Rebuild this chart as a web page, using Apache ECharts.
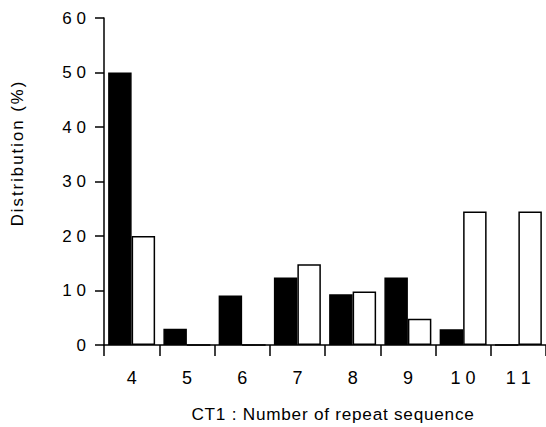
<!DOCTYPE html>
<html>
<head>
<meta charset="utf-8">
<script src="https://cdn.jsdelivr.net/npm/echarts@6/dist/echarts.min.js"></script>
<style>
html,body{margin:0;padding:0;background:#fff;}
#c{width:546px;height:427px;}
#c text[style*="16.8px"]{letter-spacing:2px;}
#c text[style*="17.2px"]{letter-spacing:0.75px;}
</style>
</head>
<body>
<div id="c"></div>
<script>
var categories = ['4','5','6','7','8','9','10','11'];
var blackValues = [50, 3, 9.1, 12.4, 9.3, 12.4, 2.9, 0];
var whiteValues = [20, 0, 0, 14.8, 9.8, 4.8, 24.5, 24.5];
var yTicks = [0, 10, 20, 30, 40, 50, 60];
var xAxisTitle = 'CT1 : Number of repeat sequence';
var yAxisTitle = 'Distribution (%)';

var FONT = '"Liberation Sans", Arial, sans-serif';
function spaced(s){ return String(s).split('').join(' '); }

var chart = echarts.init(document.getElementById('c'), null, {renderer:'svg'});
chart.setOption({
  animation: false,
  backgroundColor: '#fff',
  grid: {left: 104, top: 18, bottom: 80, width: 445, containLabel: false},
  xAxis: {
    type: 'category',
    data: categories,
    boundaryGap: true,
    name: xAxisTitle,
    nameLocation: 'middle',
    nameGap: 60,
    nameTextStyle: {fontFamily: FONT, fontSize: 17.2, color: '#000', padding: [0, 0, 0, 16]},
    axisLine: {lineStyle: {color: '#000', width: 1.5}},
    axisTick: {show: true, alignWithLabel: false, length: 11, lineStyle: {color: '#000', width: 1.5}},
    axisLabel: {fontFamily: FONT, fontSize: 18, color: '#000', margin: 24, formatter: function(v){return spaced(v);}},
    splitLine: {show: false}
  },
  yAxis: {
    type: 'value',
    min: yTicks[0],
    max: yTicks[yTicks.length-1],
    interval: yTicks[1]-yTicks[0],
    axisLine: {show: true, lineStyle: {color: '#000', width: 1.5}},
    axisTick: {show: true, length: 9, lineStyle: {color: '#000', width: 1.5}},
    axisLabel: {fontFamily: FONT, fontSize: 17, color: '#000', margin: 18, formatter: function(v){return spaced(v);}},
    splitLine: {show: false}
  },
  graphic: [{
    type: 'text',
    x: 17, y: 153,
    rotation: Math.PI/2,
    style: {text: yAxisTitle, fontFamily: FONT, fontSize: 16.8, fill: '#000', textAlign: 'center', textVerticalAlign: 'middle'}
  }],
  series: [
    {type: 'bar', data: blackValues, barGap: '0%', barCategoryGap: '15%',
     itemStyle: {color: '#000', borderColor: '#000', borderWidth: 1.5}},
    {type: 'bar', data: whiteValues, barGap: '0%', barCategoryGap: '15%',
     itemStyle: {color: '#fff', borderColor: '#000', borderWidth: 1.5}}
  ]
});
</script>
</body>
</html>
